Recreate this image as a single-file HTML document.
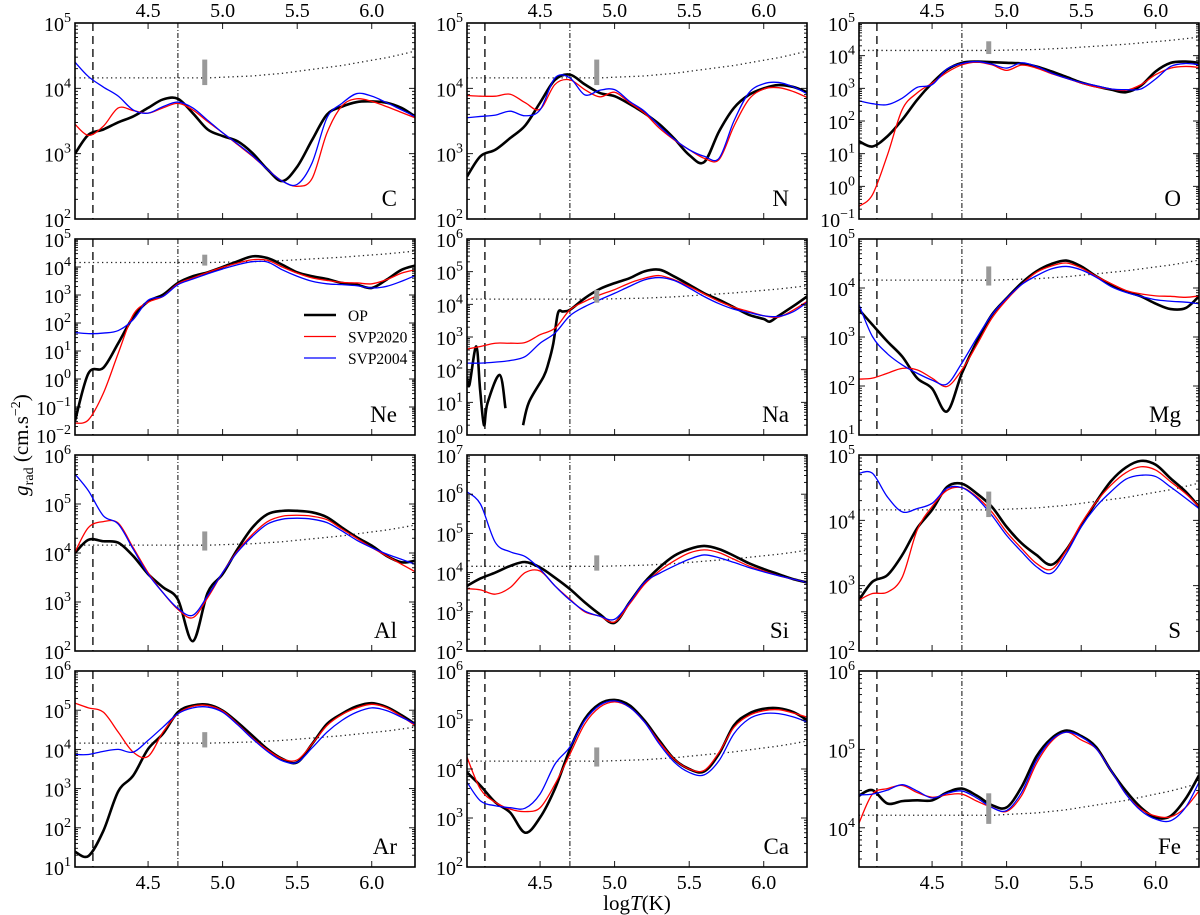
<!DOCTYPE html>
<html><head><meta charset="utf-8"><title>g_rad panels</title>
<style>
html,body{margin:0;padding:0;background:#fff;}
svg{display:block;font-family:"Liberation Serif","DejaVu Serif",serif;}
</style></head>
<body>
<svg id="fig" width="1200" height="915" viewBox="0 0 1200 915" xmlns="http://www.w3.org/2000/svg">
<text transform="translate(28,445) rotate(-90)" text-anchor="middle" font-size="21"><tspan font-style="italic">g</tspan><tspan font-size="14" dy="5">rad</tspan><tspan dy="-5"> (cm.s</tspan><tspan font-size="14" dy="-8">−2</tspan><tspan dy="8">)</tspan></text>
<text x="637" y="910" text-anchor="middle" font-size="21">log<tspan font-style="italic">T</tspan>(K)</text>
</svg>
<script>
// shared temperature grid (log T)
const logT = [4.01,4.1,4.2,4.3,4.4,4.5,4.6,4.7,4.8,4.9,5.0,5.1,5.2,5.3,5.4,5.5,5.6,5.7,5.8,5.9,6.0,6.1,6.2,6.29];
const xTicks = [4.5,5.0,5.5,6.0];
const xTickLabels = ["4.5","5.0","5.5","6.0"];
const guideLog = [4.16,4.16,4.16,4.16,4.16,4.16,4.16,4.16,4.16,4.16,4.17,4.18,4.19,4.21,4.23,4.26,4.29,4.32,4.35,4.39,4.43,4.47,4.52,4.57];
const dashedT = 4.13, dashDotT = 4.70, barT = 4.88, barLo = 4.05, barHi = 4.44;
const elements = ["C","N","O","Ne","Na","Mg","Al","Si","S","Ar","Ca","Fe"];
const yMin = [2,2,-1,-2,0,1,2,2,2,1,2,3.5];
const yMax = [5,5,5,5,6,5,6,7,5,6,6,6];
// log10 g_rad values
const cOP = [3.0,3.29,3.37,3.48,3.57,3.70,3.83,3.84,3.62,3.37,3.27,3.19,3.01,2.76,2.58,2.80,3.21,3.60,3.72,3.79,3.80,3.78,3.70,3.57];
const cSVP2020 = [3.45,3.28,3.42,3.70,3.66,3.62,3.70,3.77,3.67,3.49,3.32,3.14,2.96,2.76,2.58,2.50,2.62,3.32,3.73,3.84,3.80,3.72,3.63,3.55];
const cSVP2004 = [4.40,4.18,4.02,3.88,3.67,3.62,3.72,3.79,3.70,3.51,3.32,3.15,2.97,2.76,2.58,2.53,2.86,3.55,3.77,3.92,3.88,3.78,3.67,3.57];
const nOP = [2.65,2.96,3.06,3.24,3.43,3.78,4.13,4.21,4.06,3.93,3.88,3.76,3.62,3.45,3.23,2.98,2.87,3.34,3.70,3.90,4.00,4.05,4.02,3.94];
const nSVP2020 = [3.89,3.88,3.88,3.91,3.78,3.68,4.06,4.13,3.98,3.87,3.94,3.78,3.62,3.39,3.21,3.06,2.93,2.91,3.42,3.83,3.99,4.01,3.95,3.86];
const nSVP2004 = [3.55,3.57,3.59,3.65,3.58,3.67,4.16,4.16,3.90,3.97,3.98,3.80,3.65,3.42,3.22,3.06,2.96,2.93,3.50,3.93,4.07,4.09,4.02,3.92];
const oOP = [1.38,1.22,1.53,2.04,2.65,3.16,3.57,3.78,3.82,3.80,3.78,3.76,3.67,3.52,3.35,3.18,3.06,2.96,2.88,3.08,3.52,3.78,3.82,3.78];
const oSVP2020 = [-0.61,-0.26,0.95,2.35,2.86,3.16,3.49,3.72,3.80,3.72,3.55,3.71,3.62,3.45,3.31,3.16,3.04,2.98,2.94,3.11,3.42,3.62,3.67,3.64];
const oSVP2004 = [2.62,2.53,2.50,2.70,3.03,3.11,3.59,3.76,3.82,3.74,3.62,3.78,3.67,3.47,3.31,3.18,3.08,2.98,2.96,2.98,3.29,3.67,3.76,3.72];
const neOP = [-1.5,0.2,0.4,1.28,2.21,2.77,3.01,3.43,3.67,3.81,4.00,4.20,4.38,4.32,4.08,3.81,3.67,3.57,3.43,3.37,3.25,3.55,3.90,4.05];
const neSVP2020 = [-1.58,-1.46,-0.51,0.92,2.29,2.74,2.95,3.40,3.61,3.81,3.99,4.14,4.26,4.24,4.00,3.78,3.61,3.52,3.45,3.43,3.40,3.55,3.78,3.90];
const neSVP2004 = [1.66,1.62,1.64,1.73,2.12,2.81,2.95,3.37,3.57,3.76,3.93,4.08,4.19,4.18,3.90,3.67,3.49,3.40,3.37,3.33,3.25,3.31,3.49,3.69];
const naOpT = [4.01,4.026,4.072,4.098,4.124,4.147,4.229,4.268,null,4.386,4.425,4.524,4.556,4.589,4.62,4.654,4.7,4.8,4.9,5.0,5.1,5.2,5.3,5.4,5.5,5.6,5.7,5.8,5.9,6.0,6.04,6.1,6.2,6.29];
const naOP = [1.79,1.53,2.71,1.38,0.30,0.97,1.84,0.82,null,0.30,1.0,1.79,2.2,2.81,3.73,3.78,3.83,4.19,4.47,4.65,4.80,5.01,5.06,4.85,4.60,4.34,4.14,3.91,3.68,3.55,3.47,3.65,3.95,4.24];
const naSVP2020 = [2.63,2.71,2.81,2.81,2.83,3.07,3.27,3.83,4.09,4.29,4.45,4.65,4.80,4.88,4.75,4.55,4.32,4.09,3.91,3.78,3.65,3.61,3.83,4.09];
const naSVP2004 = [2.20,2.20,2.23,2.28,2.40,2.81,3.12,3.65,3.93,4.14,4.34,4.55,4.75,4.82,4.73,4.50,4.24,4.02,3.85,3.75,3.65,3.63,3.78,4.06];
const mgOP = [3.56,3.25,2.91,2.60,2.16,1.95,1.48,2.26,2.91,3.45,3.79,4.10,4.34,4.49,4.56,4.44,4.24,4.07,3.93,3.83,3.68,3.57,3.59,3.83];
const mgSVP2020 = [2.14,2.16,2.26,2.36,2.33,2.16,1.99,2.33,2.84,3.38,3.76,4.07,4.32,4.45,4.51,4.41,4.24,4.09,3.95,3.88,3.84,3.83,3.81,3.84];
const mgSVP2004 = [3.66,3.01,2.66,2.43,2.26,2.12,2.04,2.47,2.98,3.45,3.79,4.07,4.25,4.39,4.44,4.37,4.22,4.03,3.91,3.83,3.76,3.73,3.71,3.68];
const alOP = [4.00,4.27,4.24,4.21,3.94,3.57,3.30,3.05,2.20,3.19,3.57,4.08,4.52,4.79,4.86,4.86,4.83,4.73,4.52,4.32,4.15,3.94,3.81,3.84];
const alSVP2020 = [4.02,4.52,4.64,4.61,4.11,3.60,3.19,2.85,2.68,3.09,3.60,4.04,4.38,4.64,4.75,4.77,4.75,4.68,4.49,4.30,4.11,3.94,3.77,3.62];
const alSVP2004 = [5.61,5.27,4.76,4.59,4.08,3.57,3.19,2.87,2.73,3.13,3.60,4.02,4.34,4.59,4.69,4.71,4.69,4.62,4.45,4.26,4.11,3.98,3.87,3.77];
const siOP = [3.66,3.85,4.00,4.17,4.27,4.13,3.87,3.58,3.24,2.94,2.72,3.24,3.75,4.13,4.43,4.60,4.68,4.60,4.43,4.24,4.09,3.96,3.83,3.75];
const siSVP2020 = [3.59,3.56,3.45,3.62,4.00,4.04,3.66,3.32,3.00,2.89,2.74,3.20,3.70,4.04,4.30,4.50,4.58,4.51,4.34,4.17,4.04,3.92,3.83,3.75];
const siSVP2004 = [6.06,5.75,4.77,4.53,4.41,4.09,3.66,3.30,3.02,2.89,2.81,3.24,3.75,3.98,4.17,4.34,4.45,4.38,4.26,4.13,4.02,3.92,3.83,3.75];
const sOP = [2.78,3.06,3.16,3.47,3.88,4.16,4.51,4.56,4.41,4.21,3.90,3.65,3.47,3.32,3.55,3.92,4.28,4.60,4.81,4.91,4.85,4.64,4.44,4.21];
const sSVP2020 = [2.78,2.88,2.90,3.13,3.85,4.21,4.46,4.50,4.36,4.13,3.82,3.57,3.34,3.25,3.54,3.95,4.28,4.54,4.73,4.82,4.77,4.59,4.41,4.21];
const sSVP2004 = [4.72,4.72,4.36,4.13,4.18,4.26,4.49,4.50,4.34,4.08,3.77,3.52,3.29,3.19,3.49,3.90,4.21,4.44,4.63,4.69,4.67,4.51,4.34,4.18];
const arOP = [1.39,1.28,1.92,2.93,3.33,4.01,4.40,4.95,5.12,5.14,4.99,4.69,4.35,4.01,3.76,3.67,4.14,4.65,4.91,5.10,5.18,5.08,4.87,4.65];
const arSVP2020 = [5.18,5.06,4.95,4.44,3.93,3.82,4.44,4.91,5.10,5.12,4.98,4.65,4.29,3.99,3.76,3.73,4.14,4.61,4.89,5.06,5.15,5.06,4.84,4.61];
const arSVP2004 = [3.87,3.87,3.95,4.00,3.93,4.23,4.57,4.91,5.06,5.08,4.95,4.63,4.27,3.95,3.71,3.67,4.04,4.44,4.74,4.95,5.06,4.99,4.82,4.65];
const caOP = [3.93,3.66,3.32,3.11,2.70,3.01,3.6,4.4,5.02,5.33,5.41,5.30,4.99,4.58,4.20,4.00,3.95,4.31,4.89,5.13,5.23,5.24,5.16,5.00];
const caSVP2020 = [4.24,3.59,3.32,3.18,3.13,3.21,3.69,4.3,4.92,5.26,5.37,5.26,4.96,4.55,4.20,4.00,3.97,4.34,4.85,5.09,5.19,5.21,5.14,5.06];
const caSVP2004 = [3.73,3.35,3.25,3.21,3.20,3.49,4.10,4.45,4.99,5.30,5.39,5.26,4.96,4.51,4.14,3.93,3.88,4.17,4.72,5.02,5.13,5.13,5.06,4.96];
const feOP = [4.41,4.48,4.31,4.34,4.35,4.35,4.45,4.50,4.41,4.29,4.26,4.52,4.91,5.14,5.24,5.17,5.03,4.73,4.47,4.26,4.13,4.15,4.37,4.67];
const feSVP2020 = [4.06,4.43,4.50,4.54,4.45,4.39,4.42,4.43,4.34,4.26,4.21,4.41,4.82,5.10,5.22,5.12,5.01,4.73,4.43,4.24,4.15,4.14,4.26,4.47];
const feSVP2004 = [4.42,4.43,4.48,4.55,4.47,4.38,4.44,4.47,4.38,4.26,4.22,4.45,4.86,5.12,5.22,5.16,5.01,4.73,4.43,4.22,4.11,4.09,4.26,4.58];

const opSeries = [cOP,nOP,oOP,neOP,naOP,mgOP,alOP,siOP,sOP,arOP,caOP,feOP];
const svp2020Series = [cSVP2020,nSVP2020,oSVP2020,neSVP2020,naSVP2020,mgSVP2020,alSVP2020,siSVP2020,sSVP2020,arSVP2020,caSVP2020,feSVP2020];
const svp2004Series = [cSVP2004,nSVP2004,oSVP2004,neSVP2004,naSVP2004,mgSVP2004,alSVP2004,siSVP2004,sSVP2004,arSVP2004,caSVP2004,feSVP2004];

const NS = "http://www.w3.org/2000/svg";
const svg = document.getElementById('fig');
const colX = [75,467,859], rowY = [23,239,455,671], PW = 340, PH = 196;
const T0 = 4.01, T1 = 6.29;

function mk(tag, attrs, parent){
  const e = document.createElementNS(NS, tag);
  for (const k in attrs) e.setAttribute(k, attrs[k]);
  (parent||svg).appendChild(e);
  return e;
}
function smoothPath(pts){
  let d = "", seg = [];
  const flush = () => {
    if (seg.length === 0) return;
    d += "M" + seg[0][0].toFixed(2) + "," + seg[0][1].toFixed(2);
    for (let i = 0; i < seg.length - 1; i++) {
      const p0 = seg[i-1] || seg[i], p1 = seg[i], p2 = seg[i+1], p3 = seg[i+2] || seg[i+1];
      const c1x = p1[0] + (p2[0]-p0[0])/6, c1y = p1[1] + (p2[1]-p0[1])/6;
      const c2x = p2[0] - (p3[0]-p1[0])/6, c2y = p2[1] - (p3[1]-p1[1])/6;
      d += "C" + c1x.toFixed(2)+","+c1y.toFixed(2)+" "+c2x.toFixed(2)+","+c2y.toFixed(2)+" "+p2[0].toFixed(2)+","+p2[1].toFixed(2);
    }
    seg = [];
  };
  pts.forEach(p => { if (p === null) flush(); else seg.push(p); });
  flush();
  return d;
}
function supLabel(parent, x, y, exp, anchor){
  const t = mk('text', {x:x, y:y, 'text-anchor':anchor, 'font-size':20}, parent);
  
  
  const a = document.createElementNS(NS,'tspan'); a.textContent = "10"; t.appendChild(a);
  const b = document.createElementNS(NS,'tspan'); b.setAttribute('dy','-9'); b.setAttribute('font-size','14');
  b.textContent = exp < 0 ? "−" + (-exp) : String(exp); t.appendChild(b);
  return t;
}

elements.forEach((el, i) => {
  const r = Math.floor(i/3), c = i % 3;
  const L = colX[c], Tp = rowY[r];
  const lo = yMin[i], hi = yMax[i];
  const X = t => L + (t - T0) / (T1 - T0) * PW;
  const Y = v => Tp + (hi - v) / (hi - lo) * PH;
  const g = mk('g', {});
  
  
  const cid = 'clip' + i;
  const cp = mk('clipPath', {id: cid}, g);
  mk('rect', {x:L, y:Tp, width:PW, height:PH}, cp);
  const plot = mk('g', {'clip-path':'url(#'+cid+')'}, g);

  const gl = mk('path', {d: smoothPath(logT.map((t,k)=>[X(t),Y(guideLog[k])])), fill:'none', stroke:'#222', 'stroke-width':1.3, 'stroke-dasharray':'1.3,3.2'}, plot);
  
  
  const dl = mk('line', {x1:X(dashedT), x2:X(dashedT), y1:Tp, y2:Tp+PH, stroke:'#222', 'stroke-width':1.5, 'stroke-dasharray':'8,5'}, plot);
  
  
  const dd = mk('line', {x1:X(dashDotT), x2:X(dashDotT), y1:Tp, y2:Tp+PH, stroke:'#222', 'stroke-width':1.1, 'stroke-dasharray':'5,2,1,2'}, plot);
  
  

  const opPts = (i === 4) ? naOpT.map((t,k)=> t===null ? null : [X(t), Y(naOP[k])]) : logT.map((t,k)=>[X(t), Y(opSeries[i][k])]);
  const pOP = mk('path', {d: smoothPath(opPts), fill:'none', stroke:'#000', 'stroke-width':2.6, 'stroke-linejoin':'round'}, plot);
  
  
  const pR = mk('path', {d: smoothPath(logT.map((t,k)=>[X(t), Y(svp2020Series[i][k])])), fill:'none', stroke:'#f00', 'stroke-width':1.3}, plot);
  
  
  const pB = mk('path', {d: smoothPath(logT.map((t,k)=>[X(t), Y(svp2004Series[i][k])])), fill:'none', stroke:'#00f', 'stroke-width':1.3}, plot);
  
  

  const bar = mk('rect', {x:X(barT)-2.5, y:Y(barHi), width:5, height:Y(barLo)-Y(barHi), fill:'#999'}, plot);
  
  

  const fr = mk('rect', {x:L, y:Tp, width:PW, height:PH, fill:'none', stroke:'#000', 'stroke-width':1.6}, g);
  
  

  for (let d = Math.floor(lo); d <= Math.ceil(hi); d++) {
    for (let m = 1; m <= 9; m++) {
      const v = d + Math.log10(m);
      if (v < lo - 1e-6 || v > hi + 1e-6) continue;
      const y = Y(v), len = m === 1 ? 6 : 3;
      mk('line', {x1:L, x2:L+len, y1:y, y2:y, stroke:'#000', 'stroke-width':0.9}, g);
      mk('line', {x1:L+PW, x2:L+PW-len, y1:y, y2:y, stroke:'#000', 'stroke-width':0.9}, g);
    }
    if (d >= lo - 1e-6 && d <= hi + 1e-6) supLabel(g, L-4, Y(d)+8, d, 'end');
  }
  xTicks.forEach((t, k) => {
    const x = X(t);
    mk('line', {x1:x, x2:x, y1:Tp+PH, y2:Tp+PH-6, stroke:'#000', 'stroke-width':0.9}, g);
    mk('line', {x1:x, x2:x, y1:Tp, y2:Tp+6, stroke:'#000', 'stroke-width':0.9}, g);
    if (r === 0) {
      const tl = mk('text', {x:x, y:Tp-6, 'text-anchor':'middle', 'font-size':20}, g);
      
      
      tl.textContent = xTickLabels[k];
    }
    if (r === 3) {
      const tl = mk('text', {x:x, y:Tp+PH+22, 'text-anchor':'middle', 'font-size':20}, g);
      
      
      tl.textContent = xTickLabels[k];
    }
  });
  const lab = mk('text', {x:L+PW-18, y:Tp+PH-13, 'text-anchor':'end', 'font-size':23}, g);
  
  
  lab.textContent = el;
});

const legendNames = ["OP","SVP2020","SVP2004"];
const legendColors = ["#000","#f00","#00f"];
const legendWidths = [2.6,1.3,1.3];
const lg = mk('g', {});


legendNames.forEach((n, k) => {
  const y = 315 + k*21.5;
  const ln = mk('line', {x1:304, x2:336, y1:y, y2:y, stroke:legendColors[k], 'stroke-width':legendWidths[k]}, lg);
  
  
  const tx = mk('text', {x:348, y:y+6, 'font-size':15.5}, lg);
  
  
  tx.textContent = n;
});
</script>
</body></html>
